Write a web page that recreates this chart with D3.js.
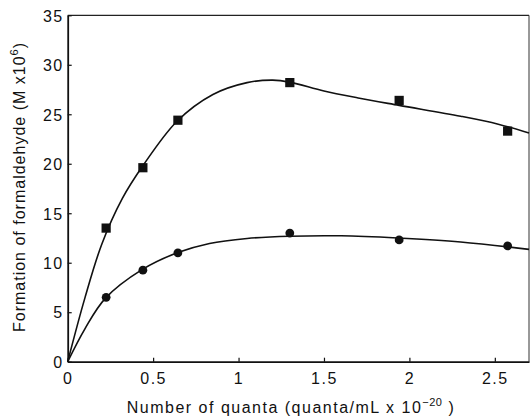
<!DOCTYPE html>
<html>
<head>
<meta charset="utf-8">
<script src="https://cdn.jsdelivr.net/npm/d3@7"></script>
<style>
  html, body { margin: 0; padding: 0; background: #fff; }
  svg { display: block; }
  text { font-family: "Liberation Sans", Arial, sans-serif; fill: #111; }
</style>
</head>
<body>
<svg id="chart" width="532" height="418"></svg>
<script>
// ---- data ----
const xTickValues = [0, 0.5, 1, 1.5, 2, 2.5];
const yTickValues = [0, 5, 10, 15, 20, 25, 30, 35];
const quanta = [0.225, 0.44, 0.645, 1.30, 1.94, 2.575];
const squareValues = [13.5, 19.6, 24.4, 28.2, 26.4, 23.3];
const circleValues = [6.5, 9.25, 11.0, 13.0, 12.3, 11.7];
// fitted curves
const squareFitX = [0, 0.1, 0.2, 0.32, 0.44, 0.64, 0.85, 1.05, 1.2, 1.3, 1.5, 1.7, 1.94, 2.3, 2.52, 2.7];
const squareFitY = [0, 6.4, 11.9, 16.5, 19.8, 24.3, 27.0, 28.2, 28.45, 28.25, 27.35, 26.65, 25.9, 24.8, 24.0, 23.1];
const circleFitX = [0, 0.1, 0.22, 0.435, 0.64, 0.83, 1.05, 1.3, 1.6, 1.93, 2.3, 2.7];
const circleFitY = [0, 3.3, 6.4, 9.3, 11.0, 11.95, 12.45, 12.68, 12.72, 12.5, 12.1, 11.35];

const svg = d3.select("#chart");
const L = 67.7, R = 529, T = 15.3, B = 361.7;
const x = d3.scaleLinear().domain([0, 2.7]).range([L, R]);
const y = d3.scaleLinear().domain([0, 35]).range([B, T]);

// frame (top & right)
svg.append("line").attr("x1", L).attr("x2", R).attr("y1", T).attr("y2", T)
  .attr("stroke", "#222").attr("stroke-width", 1.2);
svg.append("line").attr("x1", R).attr("x2", R).attr("y1", T).attr("y2", B)
  .attr("stroke", "#333").attr("stroke-width", 1);

// axes with inward ticks
const xAxis = d3.axisBottom(x).tickValues(xTickValues)
  .tickSizeInner(-4).tickSizeOuter(0).tickPadding(10.5)
  .tickFormat(d => d === 0 ? "0" : d3.format("")(d));
const yAxis = d3.axisLeft(y).tickValues(yTickValues)
  .tickSizeInner(-4).tickSizeOuter(0).tickPadding(4)
  .tickFormat(d3.format("d"));

const gx = svg.append("g").attr("transform", `translate(0,${B})`).call(xAxis);
const gy = svg.append("g").attr("transform", `translate(${L},0)`).call(yAxis);
[gx, gy].forEach(g => {
  g.select(".domain").attr("stroke", "#111").attr("stroke-width", 1.8);
  g.selectAll(".tick line").attr("stroke", "#111").attr("stroke-width", 1.2);
  g.selectAll(".tick text").attr("font-size", 16).attr("letter-spacing", "1.5px")
    .attr("font-family", '"Liberation Sans", Arial, sans-serif').attr("fill", "#111");
});
gy.selectAll(".tick text").attr("dy", "0.36em");

// fitted curves
const lineGen = d3.line().x(d => x(d[0])).y(d => y(d[1])).curve(d3.curveCatmullRom.alpha(0.5));
svg.append("path").datum(squareFitX.map((v, i) => [v, squareFitY[i]]))
  .attr("d", lineGen).attr("fill", "none").attr("stroke", "#111").attr("stroke-width", 1.6);
svg.append("path").datum(circleFitX.map((v, i) => [v, circleFitY[i]]))
  .attr("d", lineGen).attr("fill", "none").attr("stroke", "#111").attr("stroke-width", 1.6);

// markers
const s = 9.2;
svg.append("g").selectAll("rect").data(quanta.map((v, i) => [v, squareValues[i]])).join("rect")
  .attr("x", d => x(d[0]) - s / 2).attr("y", d => y(d[1]) - s / 2)
  .attr("width", s).attr("height", s).attr("fill", "#111");
svg.append("g").selectAll("circle").data(quanta.map((v, i) => [v, circleValues[i]])).join("circle")
  .attr("cx", d => x(d[0])).attr("cy", d => y(d[1])).attr("r", 4.4).attr("fill", "#111");

// axis titles
const xt = svg.append("text").attr("x", 291).attr("y", 413).attr("text-anchor", "middle")
  .attr("font-size", 16).attr("letter-spacing", "1.5px");
xt.append("tspan").text("Number of quanta (quanta/mL x 10");
xt.append("tspan").attr("dy", -7).attr("font-size", 11).attr("letter-spacing", "0.5px").text("\u221220");
xt.append("tspan").attr("dy", 7).text(" )");

const yt = svg.append("text").attr("transform", "translate(25,187) rotate(-90)")
  .attr("text-anchor", "middle").attr("font-size", 16).attr("letter-spacing", "1px");
yt.append("tspan").text("Formation of formaldehyde (M x10");
yt.append("tspan").attr("dy", -7).attr("font-size", 11).text("6");
yt.append("tspan").attr("dy", 7).text(")");
</script>
</body>
</html>
